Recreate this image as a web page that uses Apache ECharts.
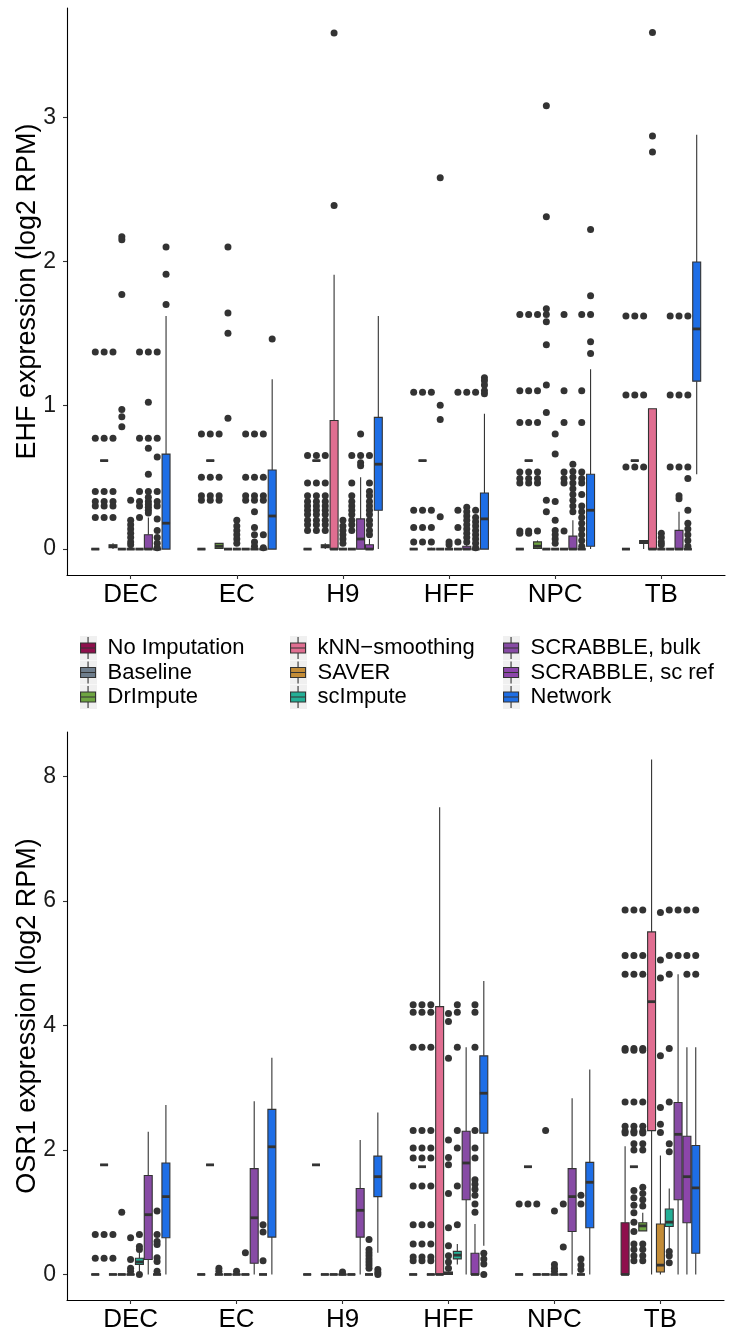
<!DOCTYPE html>
<html><head><meta charset="utf-8">
<script src="https://cdn.jsdelivr.net/npm/echarts@6/dist/echarts.min.js"></script>
<style>html,body{margin:0;padding:0;background:#fff}#c{width:731px;height:1337px}</style>
</head><body><div id="c"></div>
<script>
const categories = ['DEC','EC','H9','HFF','NPC','TB'];
const methods = ['No Imputation','Baseline','DrImpute','kNN\u2212smoothing','SAVER','scImpute','SCRABBLE, bulk','SCRABBLE, sc ref','Network'];
const colors = ['#8E0F4C','#6E7D8C','#6EA541','#E06E91','#C38C37','#23AF96','#874BA5','#8C46AA','#1E6EE6'];
const ehfTicks = [0,1,2,3];
const osr1Ticks = [0,2,4,6,8];

// ---- EHF panel: box stats [min, q1, median, q3, max] for the 9 methods, per category
const ehf_DEC = [[0,0,0,0,0],[0.615,0.615,0.615,0.615,0.615],[0,0.01,0.02,0.03,0.04],[0,0,0,0,0],[0,0,0,0,0.01],[0,0,0,0,0],[0,0,0,0.10,0.22],[0,0,0,0,0],[0,0,0.18,0.66,1.62]];
const ehf_EC  = [[0,0,0,0,0],[0.615,0.615,0.615,0.615,0.615],[0,0.005,0.02,0.04,0.04],[0,0,0,0,0],[0,0,0,0,0.01],[0,0,0,0,0],[0,0,0,0,0],[0,0,0,0,0],[0,0,0.23,0.55,1.18]];
const ehf_H9  = [[0,0,0,0,0],[0.615,0.615,0.615,0.615,0.615],[0,0.01,0.02,0.03,0.04],[0,0,0,0.894,1.907],[0,0,0,0,0.01],[0,0,0,0,0],[0,0,0.07,0.21,0.50],[0,0,0,0.03,0.07],[0,0.27,0.59,0.915,1.62]];
const ehf_HFF = [[0,0,0,0,0],[0.615,0.615,0.615,0.615,0.615],[0,0,0,0,0.01],[0,0,0,0,0],[0,0,0,0,0],[0,0,0,0,0],[0,0,0,0.02,0.04],[0,0,0,0,0],[0,0,0.21,0.39,0.94]];
const ehf_NPC = [[0,0,0,0,0],[0.615,0.615,0.615,0.615,0.615],[0,0.005,0.02,0.05,0.06],[0,0,0,0,0],[0,0,0,0,0],[0,0,0,0,0],[0,0,0,0.09,0.20],[0,0,0,0,0],[0,0.02,0.27,0.52,1.25]];
const ehf_TB  = [[0,0,0,0,0],[0.615,0.615,0.615,0.615,0.615],[0,0.04,0.05,0.06,0.06],[0,0,0,0.975,0.975],[0,0,0,0,0.01],[0,0,0,0,0],[0,0,0,0.13,0.26],[0,0,0,0,0],[0.52,1.167,1.53,1.995,2.88]];
// ---- EHF outliers per method
const ehf_DEC_out = [[1.37,0.77,0.40,0.33,0.30,0.22],[1.37,0.77,0.40,0.33,0.30,0.22],[1.37,0.77,0.40,0.33,0.30,0.22],[2.17,2.15,1.77,0.97,0.92,0.85],[0.34,0.20,0.17,0.14,0.11,0.08,0.05,0.03],[1.37,0.77,0.40,0.33,0.30,0.22],[1.37,1.02,0.77,0.70,0.52,0.40,0.36,0.33,0.31,0.29,0.27,0.25],[1.37,0.77,0.64,0.40,0.33,0.30,0.21,0.13,0.08,0.04,0.01],[2.10,1.91,1.70]];
const ehf_EC_out  = [[0.80,0.50,0.37,0.34],[0.80,0.50,0.37,0.34],[0.80,0.50,0.37,0.34],[2.10,1.64,1.50,0.91],[0.20,0.16,0.13,0.10,0.07,0.04],[0.80,0.50,0.37,0.34],[0.80,0.50,0.37,0.34,0.26,0.15,0.10,0.05,0.02],[0.80,0.50,0.37,0.34,0.10,0.01],[1.46]];
const ehf_H9_out  = [[0.65,0.46,0.37,0.33,0.30,0.27,0.24,0.20,0.17,0.13],[0.65,0.46,0.37,0.33,0.30,0.27,0.24,0.20,0.17,0.13],[0.65,0.46,0.37,0.33,0.30,0.27,0.24,0.20,0.17,0.13],[3.586,2.387],[0.20,0.16,0.13,0.10,0.07,0.04],[0.65,0.46,0.37,0.33,0.30,0.27,0.24,0.20,0.17,0.13],[0.80,0.65,0.60,0.58],[0.65,0.46,0.40,0.37,0.33,0.30,0.27,0.24,0.20,0.17,0.13,0.10],[]];
const ehf_HFF_out = [[1.09,0.27,0.15,0.05],[1.09,0.27,0.15,0.05],[1.09,0.27,0.15,0.05],[2.58,1.00,0.90,0.225],[0.05,0.03],[1.09,0.27,0.15,0.05],[1.09,0.29,0.26,0.23,0.20,0.17,0.14,0.11,0.08,0.05],[1.09,0.27,0.22,0.19,0.16,0.13,0.10,0.07,0.04,0.01],[1.19,1.17,1.14,1.10,1.08]];
const ehf_NPC_out = [[1.63,1.10,0.88,0.535,0.49,0.46,0.125,0.11],[1.63,1.10,0.88,0.535,0.49,0.46,0.125,0.11],[1.63,1.10,0.88,0.535,0.49,0.46,0.125],[3.08,2.31,1.67,1.63,1.58,1.42,1.14,0.95,0.34,0.26],[0.80,0.66,0.33,0.20,0.13,0.10,0.07,0.04],[1.63,1.10,0.88,0.535,0.49,0.46,0.125],[0.59,0.54,0.50,0.46,0.42,0.38,0.34,0.30,0.26],[1.63,1.10,0.88,0.535,0.49,0.46,0.38,0.30,0.26,0.22,0.18,0.14,0.10,0.06,0.02],[2.22,1.76,1.63,1.44,1.36]];
const ehf_TB_out  = [[1.62,1.07,0.57],[1.62,1.07,0.57],[1.62,1.07,0.57],[3.59,2.87,2.76],[0.11,0.08,0.05,0.03],[1.62,1.07,0.57],[1.62,1.07,0.57,0.37,0.35],[1.62,1.07,0.57,0.49,0.27,0.18,0.14,0.10,0.06,0.02],[]];

// ---- OSR1 panel: box stats
const osr_DEC = [[0,0,0,0,0],[1.76,1.76,1.76,1.76,1.76],[0,0,0,0,0],[0,0,0,0,0],[0,0,0,0,0],[0.05,0.16,0.20,0.26,0.35],[0,0.24,0.96,1.59,2.29],[0,0,0,0,0],[0,0.59,1.25,1.79,2.72]];
const osr_EC  = [[0,0,0,0,0],[1.76,1.76,1.76,1.76,1.76],[0,0,0,0,0],[0,0,0,0,0],[0,0,0,0,0],[0,0,0,0,0],[0,0.18,0.91,1.70,2.78],[0,0,0,0,0],[0,0.60,2.05,2.65,3.48]];
const osr_H9  = [[0,0,0,0,0],[1.76,1.76,1.76,1.76,1.76],[0,0,0,0,0],[0,0,0,0,0],[0,0,0,0,0],[0,0,0,0,0],[0,0.60,1.03,1.38,2.16],[0,0,0,0,0],[0.35,1.25,1.57,1.90,2.60]];
const osr_HFF = [[0,0,0,0,0],[1.73,1.73,1.73,1.73,1.73],[0,0,0,0,0],[0,0,0,4.30,7.50],[0,0,0.02,0.04,0.05],[0.16,0.25,0.31,0.37,0.49],[0,1.20,1.79,2.30,3.65],[0,0,0,0.34,0.81],[0.46,2.27,2.91,3.51,4.71]];
const osr_NPC = [[0,0,0,0,0],[1.73,1.73,1.73,1.73,1.73],[0,0,0,0,0],[0,0,0,0,0],[0,0,0,0,0],[0,0,0,0,0],[0,0.69,1.25,1.70,2.83],[0,0,0,0,0],[0,0.75,1.48,1.80,3.29]];
const osr_TB  = [[0,0,0,0.83,2.06],[1.73,1.73,1.73,1.73,1.73],[0.70,0.70,0.78,0.83,0.99],[0,2.31,4.38,5.50,8.27],[0,0.04,0.15,0.81,1.91],[0.36,0.77,0.84,1.05,1.38],[0,1.20,2.25,2.76,4.82],[0,0.83,1.57,2.22,3.65],[0,0.34,1.39,2.07,3.65]];
// ---- OSR1 outliers
const osr_DEC_out = [[0.64,0.26],[0.64,0.26],[0.64,0.26],[1.0],[0.59,0.24,0.10,0.05],[0.64,0.45,0.40,0],[],[1.02,0.64,0.53,0.48,0.27,0.21,0.05],[]];
const osr_EC_out  = [[],[],[0.10,0.05],[],[0.05],[0.35],[],[0.80,0.68,0.22],[]];
const osr_H9_out  = [[],[],[],[],[0.04],[],[],[0.56,0.40,0.35,0.30,0.25,0.20,0.15,0.10],[0.08,0.03,0]];
const osr_HFF_out = [[4.33,4.21,3.65,2.31,2.03,1.87,1.42,0.80,0.49,0.28,0.22],[4.33,4.21,3.65,2.31,2.03,1.87,1.42,0.80,0.49,0.28,0.22],[4.33,4.21,3.65,2.31,2.03,1.87,1.42,0.80,0.49,0.28,0.22],[],[4.19,4.06,3.47,2.16,1.88,1.76,1.30,0.75,0.46,0.30,0.20,0.10],[4.33,4.21,3.65,2.31,2.03,1.42,0.80],[],[4.33,4.21,3.65,2.31,2.03,1.87,1.52,1.45,1.37,1.27,1.13,1.00],[0.34,0.25,0.17,0]];
const osr_NPC_out = [[1.13],[1.13],[1.13],[2.31],[1.02,0.16,0.10,0.05],[1.13,0.44],[],[1.27,1.13,0.25,0.15,0.08],[]];
const osr_TB_out  = [[5.85,5.12,4.82,3.63,3.60,2.77,2.38,2.30,2.27],[5.85,5.12,4.82,3.63,3.60,2.77,2.38,2.30,2.27,2.10,2.00,1.35,1.23,1.11,0.99,0.84,0.69,0.49,0.40,0.30,0.22],[5.85,5.12,4.82,3.63,3.60,2.77,2.38,2.30,2.27,2.10,2.00,1.40,1.30,1.20,1.10,0.49,0.40,0.30,0.22],[],[5.81,5.05,4.76,3.51,2.68,2.41,2.28],[5.85,5.12,4.82,3.63,2.77,2.10,1.97,0.37,0.30,0.19],[5.85,5.12],[5.85,5.12,4.82],[5.85,5.12,4.82]];

const ehfBoxes = [ehf_DEC, ehf_EC, ehf_H9, ehf_HFF, ehf_NPC, ehf_TB];
const ehfOut = [ehf_DEC_out, ehf_EC_out, ehf_H9_out, ehf_HFF_out, ehf_NPC_out, ehf_TB_out];
const osrBoxes = [osr_DEC, osr_EC, osr_H9, osr_HFF, osr_NPC, osr_TB];
const osrOut = [osr_DEC_out, osr_EC_out, osr_H9_out, osr_HFF_out, osr_NPC_out, osr_TB_out];

const STEP = 0.75 / 9;   // dodge step
const BOXW = 0.075;      // box width in category units
const FONT = '"Liberation Sans", Arial, Helvetica, sans-serif';
const INK = '#333333';

function renderFor(j) {
  return function (params, api) {
    const x = api.value(0) + (j - 4) * STEP;
    const pMin = api.coord([x, api.value(1)]);
    const pQ1 = api.coord([x, api.value(2)]);
    const pMed = api.coord([x, api.value(3)]);
    const pQ3 = api.coord([x, api.value(4)]);
    const pMax = api.coord([x, api.value(5)]);
    const half = api.size([BOXW, 0])[0] / 2;
    const cx = pMed[0];
    return {
      type: 'group',
      children: [
        {type: 'line', shape: {x1: cx, y1: pMax[1], x2: cx, y2: pQ3[1]}, style: {stroke: INK, lineWidth: 1.1}},
        {type: 'line', shape: {x1: cx, y1: pQ1[1], x2: cx, y2: pMin[1]}, style: {stroke: INK, lineWidth: 1.1}},
        {type: 'rect', shape: {x: cx - half, y: pQ3[1], width: 2 * half, height: Math.max(pQ1[1] - pQ3[1], 0)}, style: {fill: colors[j], stroke: INK, lineWidth: 1.1}},
        {type: 'line', shape: {x1: cx - half, y1: pMed[1], x2: cx + half, y2: pMed[1]}, style: {stroke: INK, lineWidth: 2.8}}
      ]
    };
  };
}

function boxSeries(boxes, gi) {
  return methods.map((m, j) => ({
    name: m,
    type: 'custom',
    xAxisIndex: gi, yAxisIndex: gi,
    renderItem: renderFor(j),
    itemStyle: {color: colors[j]},
    encode: {x: 0, y: [1, 2, 3, 4, 5]},
    data: boxes.map((cat, ci) => [ci].concat(cat[j])),
    z: 2,
    silent: true
  }));
}

function outSeries(outs, gi, nm) {
  const pts = [];
  outs.forEach((cat, ci) => cat.forEach((list, j) => list.forEach(v => pts.push([ci + (j - 4) * STEP, v]))));
  return {
    name: nm, type: 'scatter', xAxisIndex: gi, yAxisIndex: gi,
    symbol: 'circle', symbolSize: 7, itemStyle: {color: INK, opacity: 1},
    data: pts, z: 3, silent: true
  };
}

function xAx(gi) {
  return {
    gridIndex: gi, type: 'value', min: -0.6, max: 5.6,
    axisLine: {show: true, onZero: false, lineStyle: {color: '#000', width: 1.1}},
    axisTick: {show: true, customValues: [0, 1, 2, 3, 4, 5], length: 4, lineStyle: {color: INK, width: 1.1}},
    axisLabel: {customValues: [0, 1, 2, 3, 4, 5], formatter: v => categories[Math.round(v)], fontSize: 26, color: '#000', margin: 7, fontFamily: FONT},
    splitLine: {show: false}
  };
}
function yAx(gi, mn, mx, ticks, title) {
  return {
    gridIndex: gi, type: 'value', min: mn, max: mx,
    axisLine: {show: true, onZero: false, lineStyle: {color: '#000', width: 1.1}},
    axisTick: {show: true, customValues: ticks, length: 4, lineStyle: {color: INK, width: 1.1}},
    axisLabel: {customValues: ticks, fontSize: 23, color: '#1a1a1a', margin: 11, fontFamily: FONT},
    splitLine: {show: false},
    name: title, nameLocation: 'middle', nameGap: 26, nameMoveOverlap: false,
    nameTextStyle: {fontSize: 27, color: '#000', fontFamily: FONT}
  };
}

const keyIcon = 'path://M1,6 L16,6 L16,16 L1,16 Z M1,11 L16,11 M8.5,0 L8.5,6 M8.5,16 L8.5,22';
const legendLefts = [80, 290, 503];
const LEG_TOP = 636;
const ROW = 24.5;

// light grey key backgrounds (legend decoration)
const keyBg = [];
legendLefts.forEach(l => { for (let r = 0; r < 3; r++) keyBg.push({type: 'rect', left: l, top: LEG_TOP + r * ROW, shape: {width: 17, height: 24}, style: {fill: '#F0F0F0'}, z: -1, silent: true}); });

const option = {
  animation: false,
  backgroundColor: '#fff',
  color: colors,
  graphic: keyBg,
  grid: [
    {left: 67, top: 8, width: 658, height: 567, containLabel: false},
    {left: 67, top: 732, width: 657, height: 568, containLabel: false}
  ],
  xAxis: [xAx(0), xAx(1)],
  yAxis: [
    yAx(0, -0.18, 3.76, ehfTicks, 'EHF expression (log2 RPM)'),
    yAx(1, -0.41, 8.71, osr1Ticks, 'OSR1 expression (log2 RPM)')
  ],
  legend: [0, 1, 2].map(k => ({
    orient: 'vertical', left: legendLefts[k], top: LEG_TOP, padding: 0,
    data: methods.slice(3 * k, 3 * k + 3),
    icon: keyIcon, itemWidth: 17, itemHeight: 22, itemGap: 0.5,
    selectedMode: false,
    itemStyle: {borderColor: INK, borderWidth: 1.1},
    textStyle: {fontSize: 22, color: '#000', fontFamily: FONT, lineHeight: 24, padding: [0, 0, 0, 6]}
  })),
  series: [].concat(
    boxSeries(ehfBoxes, 0), [outSeries(ehfOut, 0, 'out-EHF')],
    boxSeries(osrBoxes, 1), [outSeries(osrOut, 1, 'out-OSR1')]
  )
};

const chart = echarts.init(document.getElementById('c'), null, {renderer: 'canvas'});
chart.setOption(option);
</script>
</body></html>
